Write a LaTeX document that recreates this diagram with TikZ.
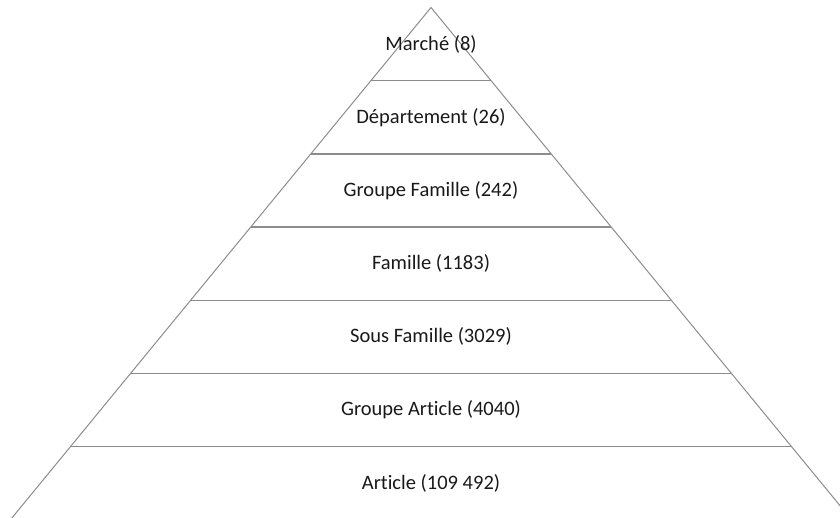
\documentclass[tikz,border=0pt]{standalone}
\usepackage{fontspec}
\setmainfont[Ligatures=NoCommon]{Carlito}

\begin{document}
\begin{tikzpicture}[x=1pt, y=-1pt,
    level/.style={font=\fontsize{20.5}{24}\selectfont, text=black!90},
    edge/.style={draw=gray!90, line width=1pt}]

\useasboundingbox (0,0) rectangle (840,518);
\clip (0,0) rectangle (840,518);

% Outline of the pyramid
\coordinate (apex) at (431,7.5);
\coordinate (baseL) at (10.3,519.9);
\coordinate (baseR) at (851.7,519.9);
\draw[edge] (baseL) -- (apex) -- (baseR);

% Separators between the levels
\foreach \k in {1,...,6} {
    \draw[edge, line width=1.3pt] ({431-60.1*\k},{7.5+73.2*\k}) -- ({431+60.1*\k},{7.5+73.2*\k});
}

% Level names with counts
\foreach \k/\name/\txt in {1/marche/Marché (8), 2/departement/Département (26),
                            3/grpfam/Groupe Famille (242), 4/famille/Famille (1183),
                            5/sousfam/Sous Famille (3029), 6/grpart/Groupe Article (4040),
                            7/article/Article (109 492)} {
    \node[level] (\name) at (431,{7.5+73.2*(\k-0.5)}) {\txt};
}

\end{tikzpicture}
\end{document}
